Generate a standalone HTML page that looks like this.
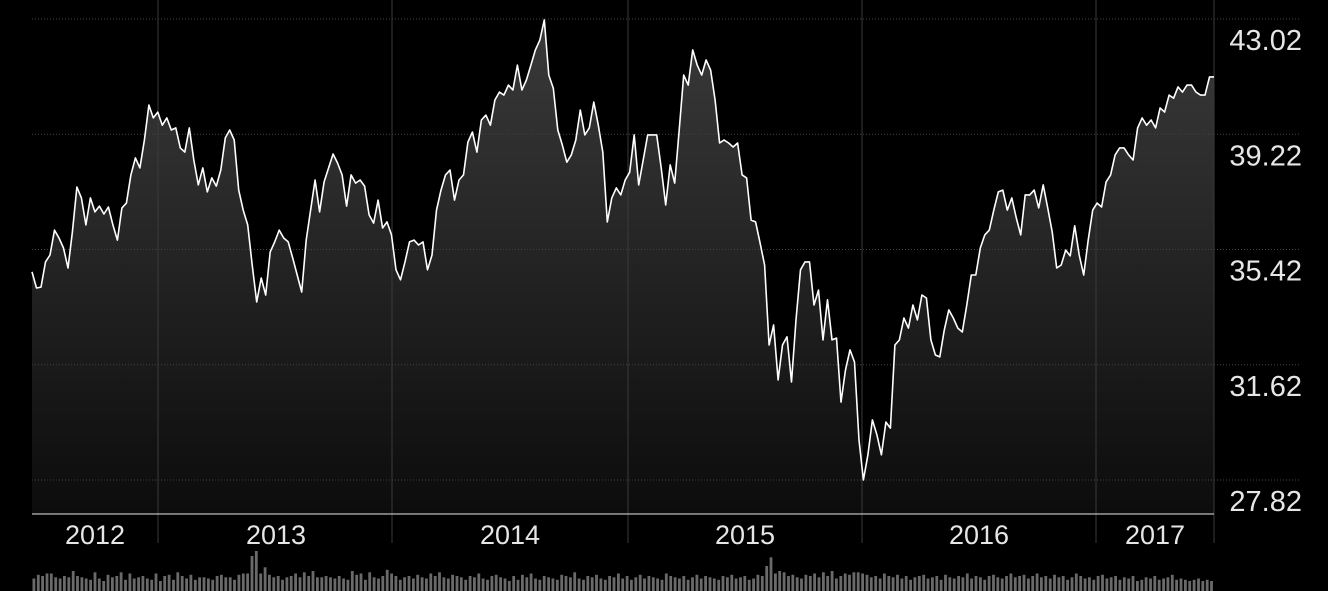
<!DOCTYPE html>
<html><head><meta charset="utf-8"><style>
html,body{margin:0;padding:0;background:#000;width:1328px;height:591px;overflow:hidden}
svg{display:block}
text{font-family:"Liberation Sans",sans-serif}
</style></head><body>
<svg id="chart" width="1328" height="591">
<defs><linearGradient id="fillg" x1="0" y1="0" x2="0" y2="1">
<stop offset="0" stop-color="#3a3a3a"/><stop offset="1" stop-color="#0c0c0c"/></linearGradient></defs>
</svg>
<script>
const prices=[34.68,34.15,34.18,35.01,35.24,36.06,35.80,35.47,34.81,36.00,37.48,37.12,36.23,37.12,36.66,36.85,36.59,36.82,36.23,35.73,36.79,36.95,37.88,38.44,38.11,39.03,40.18,39.76,39.95,39.52,39.76,39.36,39.43,38.77,38.63,39.43,38.37,37.55,38.11,37.32,37.78,37.51,38.04,39.10,39.36,39.03,37.38,36.72,36.23,34.91,33.69,34.48,33.92,35.34,35.67,36.06,35.80,35.67,35.14,34.58,34.02,35.73,36.72,37.71,36.66,37.65,38.11,38.57,38.27,37.88,36.85,37.88,37.61,37.71,37.51,36.56,36.29,37.05,36.13,36.33,35.90,34.75,34.42,35.01,35.67,35.73,35.57,35.67,34.75,35.24,36.72,37.38,37.88,38.04,37.05,37.71,37.88,38.96,39.29,38.63,39.69,39.85,39.52,40.35,40.61,40.51,40.84,40.68,41.50,40.68,41.01,41.50,42.00,42.33,42.99,41.17,40.74,39.36,38.87,38.30,38.54,39.03,40.02,39.20,39.43,40.28,39.52,38.63,36.33,37.12,37.45,37.22,37.71,37.97,39.20,37.55,38.37,39.20,39.20,39.20,38.11,36.89,38.21,37.61,39.36,41.17,40.84,42.00,41.50,41.17,41.67,41.34,40.35,38.93,39.03,38.93,38.80,38.93,37.88,37.78,36.39,36.33,35.63,34.91,32.27,32.93,31.12,32.27,32.54,31.05,33.10,34.75,35.01,35.01,33.59,34.08,32.44,33.76,32.44,32.50,30.39,31.45,32.11,31.71,29.14,27.82,28.65,29.80,29.31,28.65,29.73,29.53,32.27,32.44,33.16,32.83,33.59,33.10,33.92,33.82,32.44,31.94,31.88,32.77,33.43,33.16,32.83,32.70,33.59,34.58,34.58,35.47,35.90,36.06,36.72,37.32,37.38,36.72,37.12,36.46,35.90,37.22,37.22,37.38,36.79,37.55,36.79,36.00,34.81,34.91,35.40,35.21,36.20,35.24,34.58,35.73,36.72,36.95,36.82,37.65,37.88,38.54,38.77,38.77,38.54,38.37,39.43,39.76,39.52,39.69,39.43,40.09,39.95,40.51,40.41,40.78,40.61,40.84,40.84,40.61,40.51,40.51,41.11,41.11];
const volumes=[10,13,12,14,14,11,10,12,11,16,12,11,10,9,15,10,8,13,11,12,15,9,14,10,11,12,10,9,14,8,12,13,9,15,12,10,13,9,11,11,10,9,12,13,11,11,9,13,14,14,28,32,14,19,13,11,12,9,11,12,14,11,15,12,16,11,11,12,11,10,12,10,9,16,13,14,9,15,11,10,12,17,14,12,9,11,12,10,13,11,10,14,12,15,11,10,13,12,11,9,12,11,14,10,9,12,13,11,10,8,12,9,13,11,14,10,9,12,11,10,9,13,12,11,15,10,9,12,11,13,10,9,12,11,14,10,12,9,11,13,10,12,11,10,9,14,12,11,10,12,9,11,13,10,12,11,10,9,12,11,13,10,11,12,9,10,13,12,20,27,14,16,15,12,13,11,10,13,12,14,11,15,12,16,10,12,14,13,15,15,14,13,11,12,10,14,12,11,13,10,12,9,11,12,13,10,11,12,9,13,11,10,12,11,14,10,12,11,9,12,13,11,10,12,14,11,12,13,10,12,14,11,12,10,13,11,12,9,11,14,12,10,11,9,12,13,10,11,12,9,11,10,12,8,9,11,10,12,9,10,11,13,9,10,9,8,9,10,8,9,8];
const yTicks=[43.02,39.22,35.42,31.62,27.82];
const yearLabels=["2012","2013","2014","2015","2016","2017"];
const yearLabelX=[95,276,510,745,979,1155];
const yearLines=[158,392,628,862,1096,1214];

const svg=document.getElementById('chart');
const NS='http://www.w3.org/2000/svg';
const X0=32,X1=1214,YTOP=19,YBOT=480,PMAX=43.02,PMIN=27.82;
const xs=i=>X0+(X1-X0)*i/(prices.length-1);
const ys=p=>YTOP+(PMAX-p)/(PMAX-PMIN)*(YBOT-YTOP);
const vmax=Math.max(...volumes);
function mk(tag,attrs){const e=document.createElementNS(NS,tag);for(const k in attrs)e.setAttribute(k,attrs[k]);svg.appendChild(e);return e;}

let d='M'+X0+','+514;
prices.forEach((p,i)=>{d+=' L'+xs(i).toFixed(1)+','+ys(p).toFixed(1);});
d+=' L'+X1+',514 Z';
const area=mk('path',{d:d,fill:'url(#fillg)'});



yTicks.forEach(t=>{
  const g=mk('line',{x1:X0,x2:1300,y1:ys(t),y2:ys(t),stroke:'#444','stroke-width':1,'stroke-dasharray':'1,2'});
  
  
  const tx=mk('text',{x:1302,y:ys(t)+31,'text-anchor':'end',fill:'#e6e6e6','font-size':29});
  tx.textContent=t.toFixed(2);
  
  
});
yearLines.forEach(x=>{
  const l=mk('line',{x1:x,x2:x,y1:0,y2:543,stroke:'#3a3a3a','stroke-width':1});
  
  
});
const bl=mk('line',{x1:X0,x2:X1,y1:514,y2:514,stroke:'#bbb','stroke-width':1.2});


let ld='';
prices.forEach((p,i)=>{ld+=(i?' L':'M')+xs(i).toFixed(1)+','+ys(p).toFixed(1);});
const line=mk('path',{d:ld,fill:'none',stroke:'#fff','stroke-width':1.6,'stroke-linejoin':'round'});


yearLabels.forEach((y,i)=>{
  const t=mk('text',{x:yearLabelX[i],y:544,'text-anchor':'middle',fill:'#e6e6e6','font-size':27});
  t.textContent=y;
  
  
});
const vstep=(X1-X0)/volumes.length;
volumes.forEach((v,i)=>{
  const h=v/vmax*40;
  const r=mk('rect',{x:(X0+i*vstep+0.5).toFixed(1),y:(591-h).toFixed(1),width:Math.max(1.5,vstep-1.6).toFixed(1),height:h.toFixed(1),fill:'#6a6a6a'});
  
  
});
</script>
</body></html>
